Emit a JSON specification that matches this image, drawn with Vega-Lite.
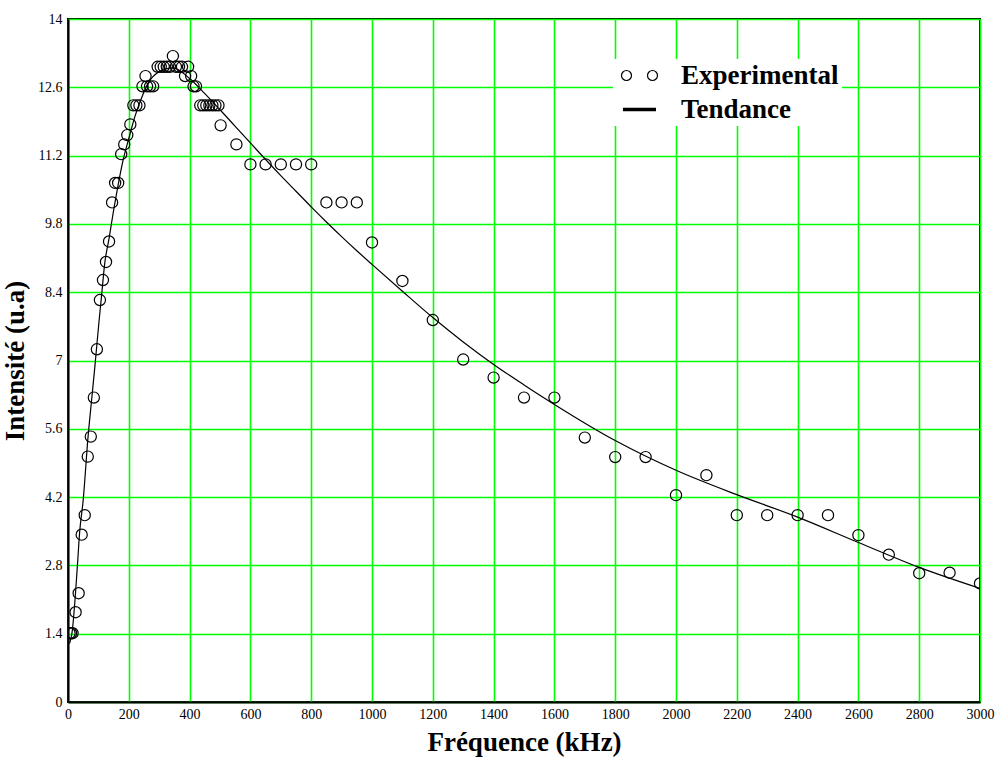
{
  "$schema": "https://vega.github.io/schema/vega-lite/v6.json",
  "autosize": {"type": "none"},
  "width": 912,
  "height": 683,
  "padding": {"left": 68, "top": 19, "right": 17, "bottom": 55},
  "background": "white",
  "config": {
    "view": {"stroke": "black", "strokeWidth": 2},
    "axis": {
      "grid": true,
      "gridColor": "#00ff00",
      "gridWidth": 1.6,
      "gridOpacity": 1,
      "domainColor": "black",
      "domainWidth": 2,
      "ticks": false,
      "labelFont": "Liberation Serif",
      "labelFontSize": 14,
      "labelColor": "black",
      "titleFont": "Liberation Serif",
      "titleFontWeight": "bold",
      "titleFontSize": 27,
      "titleColor": "black"
    }
  },
  "datasets": {
    "exp": [
      {"freq": 5, "intensity": 1.41}, {"freq": 10, "intensity": 1.41}, {"freq": 15, "intensity": 1.41},
      {"freq": 25, "intensity": 1.84}, {"freq": 35, "intensity": 2.23}, {"freq": 45, "intensity": 3.43},
      {"freq": 55, "intensity": 3.83}, {"freq": 65, "intensity": 5.03}, {"freq": 75, "intensity": 5.44},
      {"freq": 85, "intensity": 6.24}, {"freq": 95, "intensity": 7.23}, {"freq": 105, "intensity": 8.24},
      {"freq": 115, "intensity": 8.65}, {"freq": 125, "intensity": 9.02}, {"freq": 135, "intensity": 9.44},
      {"freq": 145, "intensity": 10.24}, {"freq": 155, "intensity": 10.64}, {"freq": 165, "intensity": 10.64},
      {"freq": 175, "intensity": 11.23}, {"freq": 185, "intensity": 11.43}, {"freq": 195, "intensity": 11.62},
      {"freq": 205, "intensity": 11.84}, {"freq": 215, "intensity": 12.23}, {"freq": 225, "intensity": 12.23},
      {"freq": 235, "intensity": 12.23}, {"freq": 245, "intensity": 12.62}, {"freq": 255, "intensity": 12.83},
      {"freq": 260, "intensity": 12.62}, {"freq": 270, "intensity": 12.62}, {"freq": 280, "intensity": 12.62},
      {"freq": 295, "intensity": 13.02}, {"freq": 305, "intensity": 13.02}, {"freq": 315, "intensity": 13.02},
      {"freq": 325, "intensity": 13.02}, {"freq": 335, "intensity": 13.02}, {"freq": 345, "intensity": 13.24},
      {"freq": 355, "intensity": 13.02}, {"freq": 365, "intensity": 13.02}, {"freq": 375, "intensity": 13.02},
      {"freq": 385, "intensity": 12.83}, {"freq": 395, "intensity": 13.02}, {"freq": 405, "intensity": 12.83},
      {"freq": 413, "intensity": 12.62}, {"freq": 421, "intensity": 12.62}, {"freq": 435, "intensity": 12.23},
      {"freq": 445, "intensity": 12.23}, {"freq": 455, "intensity": 12.23}, {"freq": 465, "intensity": 12.23},
      {"freq": 475, "intensity": 12.23}, {"freq": 485, "intensity": 12.23}, {"freq": 495, "intensity": 12.23},
      {"freq": 502, "intensity": 11.82}, {"freq": 554, "intensity": 11.43}, {"freq": 600, "intensity": 11.02},
      {"freq": 650, "intensity": 11.02}, {"freq": 700, "intensity": 11.02}, {"freq": 750, "intensity": 11.02},
      {"freq": 800, "intensity": 11.02}, {"freq": 850, "intensity": 10.24}, {"freq": 900, "intensity": 10.24},
      {"freq": 950, "intensity": 10.24}, {"freq": 1000, "intensity": 9.42}, {"freq": 1100, "intensity": 8.63},
      {"freq": 1200, "intensity": 7.83}, {"freq": 1300, "intensity": 7.02}, {"freq": 1400, "intensity": 6.65},
      {"freq": 1500, "intensity": 6.24}, {"freq": 1600, "intensity": 6.24}, {"freq": 1700, "intensity": 5.42},
      {"freq": 1800, "intensity": 5.02}, {"freq": 1900, "intensity": 5.02}, {"freq": 2000, "intensity": 4.24},
      {"freq": 2100, "intensity": 4.65}, {"freq": 2200, "intensity": 3.83}, {"freq": 2300, "intensity": 3.83},
      {"freq": 2400, "intensity": 3.83}, {"freq": 2500, "intensity": 3.83}, {"freq": 2600, "intensity": 3.42},
      {"freq": 2700, "intensity": 3.02}, {"freq": 2800, "intensity": 2.64}, {"freq": 2900, "intensity": 2.65},
      {"freq": 3000, "intensity": 2.43}
    ],
    "trend": [
      {"freq": 5, "intensity": 1.2}, {"freq": 13, "intensity": 1.41}, {"freq": 31, "intensity": 2.8},
      {"freq": 38, "intensity": 3.46}, {"freq": 50, "intensity": 4.14}, {"freq": 66, "intensity": 5.44},
      {"freq": 77, "intensity": 6.15}, {"freq": 88, "intensity": 6.85}, {"freq": 102, "intensity": 7.8},
      {"freq": 110, "intensity": 8.3}, {"freq": 121, "intensity": 9.0}, {"freq": 135, "intensity": 9.5},
      {"freq": 148, "intensity": 10.0}, {"freq": 165, "intensity": 10.6}, {"freq": 181, "intensity": 11.1},
      {"freq": 200, "intensity": 11.55}, {"freq": 220, "intensity": 12.0}, {"freq": 240, "intensity": 12.35},
      {"freq": 263, "intensity": 12.68}, {"freq": 300, "intensity": 12.92}, {"freq": 345, "intensity": 13.0},
      {"freq": 400, "intensity": 12.78}, {"freq": 450, "intensity": 12.47}, {"freq": 500, "intensity": 12.14},
      {"freq": 550, "intensity": 11.8}, {"freq": 600, "intensity": 11.46}, {"freq": 650, "intensity": 11.12},
      {"freq": 700, "intensity": 10.79}, {"freq": 750, "intensity": 10.47}, {"freq": 800, "intensity": 10.15},
      {"freq": 850, "intensity": 9.84}, {"freq": 900, "intensity": 9.54}, {"freq": 950, "intensity": 9.25},
      {"freq": 1000, "intensity": 8.97}, {"freq": 1100, "intensity": 8.42}, {"freq": 1200, "intensity": 7.88},
      {"freq": 1300, "intensity": 7.38}, {"freq": 1400, "intensity": 6.92}, {"freq": 1500, "intensity": 6.5},
      {"freq": 1600, "intensity": 6.1}, {"freq": 1800, "intensity": 5.36}, {"freq": 2000, "intensity": 4.75},
      {"freq": 2200, "intensity": 4.25}, {"freq": 2400, "intensity": 3.79}, {"freq": 2600, "intensity": 3.27},
      {"freq": 2800, "intensity": 2.76}, {"freq": 3000, "intensity": 2.33}
    ]
  },
  "encoding": {
    "x": {
      "field": "freq", "type": "quantitative",
      "scale": {"domain": [0, 3000], "nice": false, "zero": false},
      "axis": {
        "title": "Fréquence (kHz)",
        "values": [0, 200, 400, 600, 800, 1000, 1200, 1400, 1600, 1800, 2000, 2200, 2400, 2600, 2800, 3000],
        "format": "d",
        "labelPadding": 5,
        "titlePadding": 8,
        "labelOverlap": false,
        "labelFlush": false
      }
    },
    "y": {
      "field": "intensity", "type": "quantitative",
      "scale": {"domain": [0, 14], "nice": false},
      "axis": {
        "title": "Intensité (u.a)",
        "values": [0, 1.4, 2.8, 4.2, 5.6, 7, 8.4, 9.8, 11.2, 12.6, 14],
        "format": ".1~f",
        "labelPadding": 6,
        "titlePadding": 8,
        "labelOverlap": false,
        "labelFlush": false
      }
    }
  },
  "layer": [
    {
      "data": {"name": "trend"},
      "mark": {"type": "line", "interpolate": "monotone", "strokeWidth": 1.2, "clip": true},
      "encoding": {
        "color": {
          "datum": "Tendance",
          "scale": {"domain": ["Experimental", "Tendance"], "range": ["black", "black"]},
          "legend": {
            "title": null,
            "orient": "none",
            "legendX": 545,
            "legendY": 40,
            "fillColor": "white",
            "padding": 3,
            "symbolOffset": 10,
            "symbolSize": 400,
            "labelOffset": 28,
            "labelFont": "Liberation Serif",
            "labelFontWeight": "bold",
            "labelFontSize": 27,
            "labelColor": "black",
            "rowPadding": 6,
            "encode": {
              "symbols": {
                "update": {
                  "shape": {"signal": "datum.value === 'Experimental' ? 'M-0.8,0A0.5,0.5 0 1,0 -1.8,0A0.5,0.5 0 1,0 -0.8,0ZM1.8,0A0.5,0.5 0 1,0 0.8,0A0.5,0.5 0 1,0 1.8,0Z' : 'M-1.65,0L1.65,0'"},
                  "strokeWidth": {"signal": "datum.value === 'Experimental' ? 1.2 : 3.5"},
                  "fill": {"value": "transparent"},
                  "stroke": {"value": "black"},
                  "opacity": {"value": 1}
                }
              }
            }
          }
        }
      }
    },
    {
      "data": {"name": "exp"},
      "mark": {"type": "point", "shape": "circle", "filled": false, "size": 125, "strokeWidth": 1.2, "opacity": 1, "clip": true},
      "encoding": {
        "color": {"datum": "Experimental"}
      }
    }
  ]
}
